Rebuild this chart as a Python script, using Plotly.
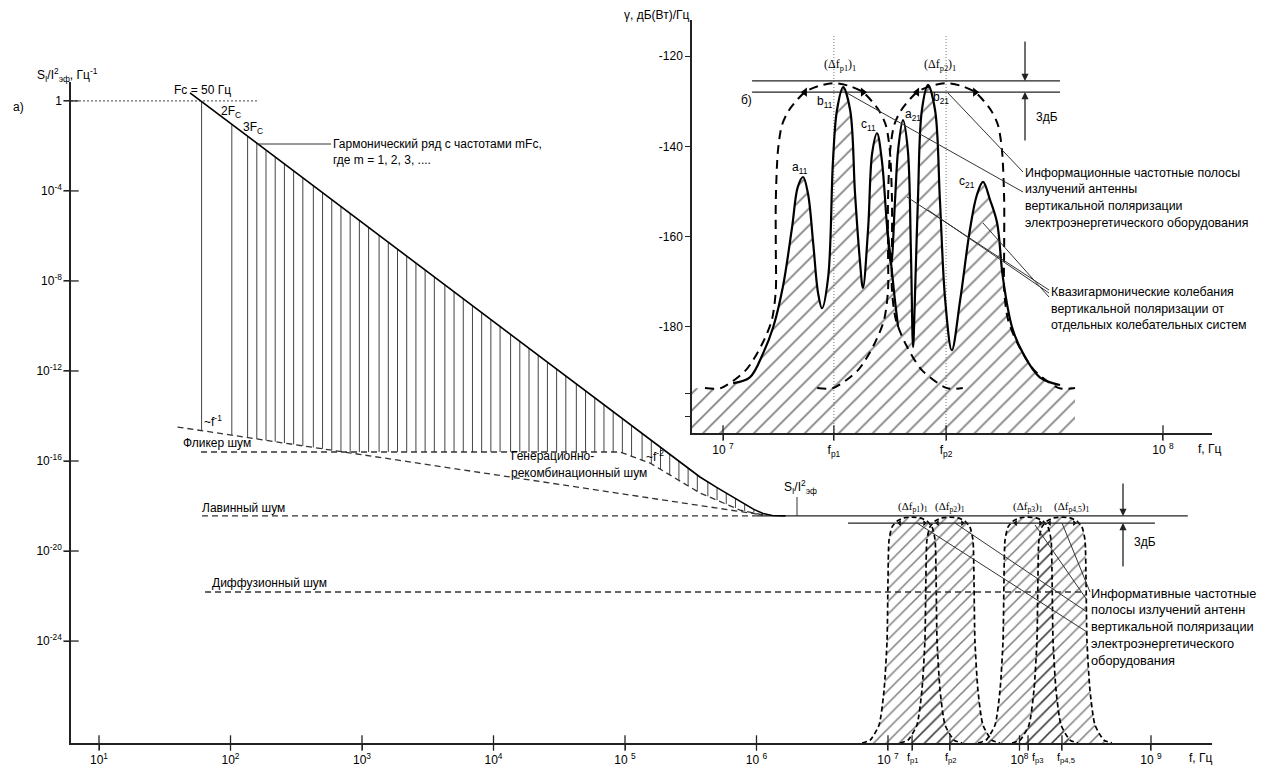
import plotly.graph_objects as go

W, H = 1264, 769
SANS = "Liberation Sans, Arial, sans-serif"
SERIF = "Liberation Serif, Times New Roman, serif"

# ---------------- panel a): relative current-noise spectrum (log10 values) ----------------
envelope_lf = [1.692, 5.570, 5.700, 5.800, 5.900, 5.980, 6.050, 6.120, 6.220]
envelope_ls = [0.356, -16.71, -17.18, -17.53, -17.89, -18.15, -18.33, -18.42, -18.44]

harmonic_lf = [1.78, 2.01, 2.13, 2.20, 2.27, 2.34, 2.41, 2.48, 2.55, 2.63, 2.70, 2.77,
               2.84, 2.91, 2.98, 3.05, 3.13, 3.20, 3.27, 3.34, 3.41, 3.48, 3.55, 3.63,
               3.70, 3.77, 3.84, 3.91, 3.98, 4.05, 4.13, 4.20, 4.27, 4.34, 4.41, 4.48,
               4.55, 4.63, 4.70, 4.77, 4.84, 4.91, 4.98, 5.05, 5.13, 5.20, 5.27, 5.34,
               5.41, 5.48, 5.55, 5.63, 5.70, 5.77, 5.84, 5.91, 5.98]
harmonic_top = [-0.03, -1.04, -1.57, -1.88, -2.19, -2.50, -2.80, -3.11, -3.42, -3.77, -4.08, -4.39,
                -4.70, -5.00, -5.31, -5.62, -5.97, -6.28, -6.59, -6.90, -7.20, -7.51, -7.82, -8.17,
                -8.48, -8.79, -9.10, -9.40, -9.71, -10.02, -10.37, -10.68, -10.99, -11.30, -11.60, -11.91,
                -12.22, -12.57, -12.88, -13.19, -13.50, -13.81, -14.11, -14.42, -14.77, -15.08, -15.39, -15.70,
                -16.01, -16.31, -16.62, -16.93, -17.18, -17.42, -17.67, -17.92, -18.15]
harmonic_floor = [-14.65, -14.85, -14.96, -15.02, -15.08, -15.14, -15.20, -15.26, -15.33, -15.40, -15.46, -15.52,
                  -15.58, -15.60, -15.60, -15.60, -15.60, -15.60, -15.60, -15.60, -15.60, -15.60, -15.60, -15.60,
                  -15.60, -15.60, -15.60, -15.60, -15.60, -15.60, -15.60, -15.60, -15.60, -15.60, -15.60, -15.60,
                  -15.60, -15.60, -15.60, -15.60, -15.60, -15.60, -15.64, -15.79, -15.96, -16.13, -16.37, -16.62,
                  -16.86, -17.11, -17.35, -17.57, -17.74, -17.92, -18.09, -18.22, -18.31]

flicker_lf = [1.597, 6.05]
flicker_ls = [-14.49, -18.40]
gr_lf = [1.776, 4.962, 5.19, 5.57, 5.875, 6.08]
gr_ls = [-15.60, -15.60, -16.09, -17.42, -18.18, -18.44]
avalanche_lf = [1.783, 6.00]
avalanche_ls = -18.44
upper_band_lf = [6.00, 9.28]
lower_band_lf = [6.696, 9.03]
lower_band_ls = -18.76
diffusion_lf = [1.806, 8.483]
diffusion_ls = -21.82
unity_lf = [0.787, 2.209]

band_centers_lf = [7.183, 7.471, 8.065, 8.323]
band_labels = ["f<sub>p1</sub>", "f<sub>p2</sub>", "f<sub>p3</sub>", "f<sub>p4,5</sub>"]
band_dlf = [0, 0.061, 0.114, 0.152, 0.175, 0.183, 0.190, 0.213, 0.251, 0.319, 0.380]
band_ls = [-18.49, -18.53, -18.67, -18.93, -19.51, -21.29, -23.96, -26.18, -27.73, -28.40, -28.53]

main_x_exp = [1, 2, 3, 4, 5, 6, 7, 8, 9]
main_x_text = ["10<sup>1</sup>", "10<sup>2</sup>", "10<sup>3</sup>", "10<sup>4</sup>", "10 <sup>5</sup>",
               "10 <sup>6</sup>", "10 <sup>7</sup>", "10<sup>8</sup>", "10 <sup>9</sup>"]
main_y_exp = [0, -4, -8, -12, -16, -20, -24]
main_y_text = ["1", "10<sup>-4</sup>", "10<sup>-8</sup>", "10<sup>-12</sup>", "10<sup>-16</sup>",
               "10<sup>-20</sup>", "10<sup>-24</sup>"]

# ---------------- panel б): emission spectrum, dB(W)/Hz ----------------
inset_lf = [7.023, 7.061, 7.091, 7.114, 7.136, 7.157, 7.170, 7.182, 7.193, 7.205,
            7.216, 7.225, 7.239, 7.250, 7.259, 7.273, 7.289, 7.300, 7.311, 7.318,
            7.330, 7.339, 7.350, 7.361, 7.373, 7.382, 7.391, 7.398, 7.409, 7.420,
            7.427, 7.432, 7.436, 7.443, 7.452, 7.466, 7.482, 7.493, 7.505, 7.520,
            7.539, 7.561, 7.577, 7.591, 7.607, 7.623, 7.636, 7.657, 7.682, 7.720, 7.766]
inset_db = [-192.5, -191.2, -185.9, -180.1, -171.2, -157.9, -149.0, -146.8, -150.4, -161.5,
            -172.5, -175.9, -169.0, -143.1, -132.0, -126.9, -132.0, -150.4, -165.2, -171.4,
            -157.9, -141.5, -137.1, -143.1, -157.9, -166.0, -151.9, -140.8, -134.2, -140.8,
            -163.0, -184.5, -174.1, -151.9, -132.0, -126.4, -132.0, -151.9, -174.1, -185.2,
            -174.1, -158.6, -150.8, -147.9, -151.9, -157.0, -169.0, -180.1, -185.9, -191.2, -192.9]
c11_tail_lf = [7.373, 7.382, 7.390, 7.398]
c11_tail_db = [-157.9, -166.0, -173.5, -180.1]
inset_floor_db = -193.6
inset_hatch_lf = [6.9295, 7.000, 7.790, 7.800]

inset_centers_lf = [7.252, 7.507]
inset_bell_dlf = [0, 0.034, 0.066, 0.102, 0.118, 0.127, 0.132, 0.132, 0.132, 0.141, 0.164, 0.200, 0.257, 0.293]
inset_bell_db = [-126.0, -126.6, -128.0, -132.0, -135.3, -140.8, -151.9, -163.0, -171.9, -178.5,
                 -184.0, -189.6, -193.6, -193.6]
inset_3db_lf = [7.066, 7.766]
inset_3db_levels = [-125.5, -128.0]

inset_x_lf = [7.0, 7.252, 7.507, 8.0]
inset_x_text = ["10 <sup>7</sup>", "f<sub>p1</sub>", "f<sub>p2</sub>", "10 <sup>8</sup>"]
inset_y_vals = [-120, -140, -160, -180, -194.7, -200]
inset_y_text = ["-120", "-140", "-160", "-180", "", ""]

MAIN_X = [0.787, 9.464]
MAIN_Y = [-28.53, 0.84]
INS_X = [6.9295, 8.1114]
INS_Y = [-203.55, -112.0]


def p10(vals):
    return [10 ** v for v in vals]


fig = go.Figure()


def add_line(x, y, axes=("x", "y"), color="black", width=1.2, dash=None, shape="linear", **kw):
    fig.add_trace(go.Scatter(x=x, y=y, mode="lines", xaxis=axes[0], yaxis=axes[1],
                             line=dict(color=color, width=width, dash=dash, shape=shape, **kw),
                             hoverinfo="skip", showlegend=False))


def cross_ticks(x, y, axes, symbol):
    # short tick strokes centred on the axis line, so they cross it
    fig.add_trace(go.Scatter(x=x, y=y, mode="markers", xaxis=axes[0], yaxis=axes[1], cliponaxis=False,
                             marker=dict(symbol=symbol, size=11, color="#222",
                                         line=dict(color="#222", width=1.3)),
                             hoverinfo="skip", showlegend=False))


# ---- panel a ----
# hatched emission bands near the noise floor
for c in band_centers_lf:
    bx = [c - d for d in reversed(band_dlf)] + [c + d for d in band_dlf[1:]]
    by = list(reversed(band_ls)) + band_ls[1:]
    fig.add_trace(go.Scatter(x=p10(bx), y=p10(by), mode="lines", fill="toself",
                             fillpattern=dict(shape="/", size=9, solidity=0.17, fgcolor="black",
                                              bgcolor="rgba(0,0,0,0)"),
                             fillcolor="rgba(0,0,0,0)",
                             line=dict(color="black", width=1.7, dash="5px,3px", shape="spline", smoothing=0.6),
                             hoverinfo="skip", showlegend=False))
    fig.add_trace(go.Scatter(x=p10([c - 0.095, c + 0.095]), y=p10([lower_band_ls, lower_band_ls]),
                             mode="markers", marker=dict(symbol=["triangle-left", "triangle-right"],
                                                         size=5, color="black"),
                             hoverinfo="skip", showlegend=False))

# harmonic series lines
hx, hy = [], []
for f, lo, hi in zip(harmonic_lf, harmonic_floor, harmonic_top):
    hx += [10 ** f, 10 ** f, None]
    hy += [10 ** lo, 10 ** hi, None]
fig.add_trace(go.Scatter(x=hx, y=hy, mode="lines", line=dict(color="#444", width=1),
                         hoverinfo="skip", showlegend=False))

add_line(p10(unity_lf), p10([0, 0]), color="#444", width=1, dash="2px,2px")
add_line(p10(flicker_lf), p10(flicker_ls), color="#333", width=1.3, dash="6px,4px")
add_line(p10(gr_lf), p10(gr_ls), color="#333", width=1.3, dash="6px,4px")
add_line(p10(avalanche_lf), p10([avalanche_ls] * 2), color="#333", width=1.3, dash="6px,4px")
add_line(p10(diffusion_lf), p10([diffusion_ls] * 2), color="#333", width=1.3, dash="6px,4px")
add_line(p10(upper_band_lf), p10([avalanche_ls] * 2), color="#222", width=1.3)
add_line(p10(lower_band_lf), p10([lower_band_ls] * 2), color="#222", width=1.3)
add_line(p10(envelope_lf), p10(envelope_ls), color="black", width=1.6)

cross_ticks(p10(main_x_exp + band_centers_lf), [10 ** MAIN_Y[0]] * 13, ("x", "y"), "line-ns-open")
cross_ticks([10 ** MAIN_X[0]] * 7, p10(main_y_exp), ("x", "y"), "line-ew-open")

# ---- panel б ----
AX2 = ("x2", "y2")
fig.add_trace(go.Scatter(x=p10([INS_X[0], inset_hatch_lf[-1]]), y=[INS_Y[0], INS_Y[0]], mode="lines",
                         xaxis="x2", yaxis="y2", line=dict(width=0), hoverinfo="skip", showlegend=False))
fx = inset_hatch_lf[:2] + inset_lf + inset_hatch_lf[2:]
fy = [inset_floor_db, inset_floor_db] + inset_db + [-193.3, inset_floor_db]
fig.add_trace(go.Scatter(x=p10(fx), y=fy, mode="lines", xaxis="x2", yaxis="y2", fill="tonexty",
                         fillpattern=dict(shape="/", size=12, solidity=0.14, fgcolor="black",
                                          bgcolor="rgba(0,0,0,0)"),
                         fillcolor="rgba(0,0,0,0)",
                         line=dict(width=0, shape="spline", smoothing=1.0),
                         hoverinfo="skip", showlegend=False))

for c in inset_centers_lf:
    add_line(p10([c, c]), [INS_Y[0], -115.3], AX2, color="#777", width=1, dash="1px,2px")

for lvl in inset_3db_levels:
    add_line(p10(inset_3db_lf), [lvl, lvl], AX2, color="#222", width=1.3)

for c in inset_centers_lf:
    bx = [c - d for d in reversed(inset_bell_dlf)] + [c + d for d in inset_bell_dlf[1:]]
    by = list(reversed(inset_bell_db)) + inset_bell_db[1:]
    add_line(p10(bx), by, AX2, color="black", width=2, dash="9px,6px", shape="spline", smoothing=0.8)
    fig.add_trace(go.Scatter(x=p10([c - 0.066, c + 0.066]), y=[-128.0, -128.0], mode="markers",
                             xaxis="x2", yaxis="y2",
                             marker=dict(symbol=["triangle-left", "triangle-right"], size=8, color="black"),
                             hoverinfo="skip", showlegend=False))

add_line(p10(inset_lf), inset_db, AX2, color="black", width=2.2, shape="spline", smoothing=1.0)
add_line(p10(c11_tail_lf), c11_tail_db, AX2, color="black", width=2.2, shape="spline", smoothing=1.0)

cross_ticks(p10(inset_x_lf), [INS_Y[0]] * 4, AX2, "line-ns-open")
cross_ticks([10 ** INS_X[0]] * 6, inset_y_vals, AX2, "line-ew-open")


# ---------------- text, leaders, arrows ----------------
def px(x, y):
    return x / W, 1 - y / H


def txt(x, y, s, size=12, anchor="left", family=SANS, yanchor="middle"):
    xx, yy = px(x, y)
    fig.add_annotation(x=xx, y=yy, xref="paper", yref="paper", text=s, showarrow=False,
                       xanchor=anchor, yanchor=yanchor, borderpad=0,
                       font=dict(size=size, family=family, color="black"))


def seg(x0, y0, x1, y1, width=1, color="#333"):
    a, b = px(x0, y0)
    c, d = px(x1, y1)
    fig.add_shape(type="line", xref="paper", yref="paper", x0=a, y0=b, x1=c, y1=d,
                  line=dict(color=color, width=width))


def arrow(x, y, dy):
    xx, yy = px(x, y)
    fig.add_annotation(x=xx, y=yy, xref="paper", yref="paper", ax=0, ay=dy, text="",
                       showarrow=True, arrowhead=2, arrowsize=1.1, arrowwidth=1.3, arrowcolor="#222")


# panel a labels
txt(36, 75, "S<sub>I</sub>/I<sup>2</sup><sub>эф</sub>, Гц<sup>-1</sup>", 12)
txt(12, 107, "а)", 12)
txt(173, 90, "Fc = 50 Гц", 12)
txt(220, 112, "2F<sub>C</sub>", 12)
txt(242, 128, "3F<sub>C</sub>", 12)
seg(258, 144, 331, 144)
txt(332, 144, "Гармонический ряд с частотами mFc,", 12)
txt(332, 160, "где m = 1, 2, 3, ....", 12)
txt(203, 421, "~f<sup>-1</sup>", 12)
txt(182, 443, "Фликер шум", 12)
txt(510, 456, "Генерационно-", 12)
txt(510, 473, "рекомбинационный шум", 12)
txt(645, 456, "~f<sup>-2</sup>", 12)
txt(201, 508, "Лавинный шум", 12)
txt(211, 583, "Диффузионный шум", 12)
txt(783, 487, "S<sub>I</sub>/I<sup>2</sup><sub>эф</sub>", 12)
seg(797, 497, 797, 516)
for cx, lab in zip([913, 950, 1028, 1072], ["p1", "p2", "p3", "p4,5"]):
    txt(cx, 507, "(Δf<sub>%s</sub>)<sub>1</sub>" % lab, 11, anchor="center", family=SERIF)
for lx, lab in zip([906, 944, 1031, 1056], band_labels):
    txt(lx, 758, lab, 11)
arrow(1123, 516, -34)
arrow(1123, 523, 45)
txt(1133, 542, "3дБ", 12)
for x0, y0, x1, y1 in [(917, 523, 1087, 632), (955, 523, 1087, 612), (1035, 525, 1087, 600), (1062, 523, 1090, 592)]:
    seg(x0, y0, x1, y1)
for i, s in enumerate(["Информативные частотные", "полосы излучений антенн", "вертикальной поляризации",
                       "электроэнергетического", "оборудования"]):
    txt(1090, 593 + i * 16.8, s, 12.8)
txt(1188, 758, "f, Гц", 12)

# panel б labels
txt(690, 15, "γ, дБ(Вт)/Гц", 12, anchor="right")
txt(740, 100, "б)", 12)
txt(840, 65, "(Δf<sub>p1</sub>)<sub>1</sub>", 12, anchor="center", family=SERIF)
txt(940, 65, "(Δf<sub>p2</sub>)<sub>1</sub>", 12, anchor="center", family=SERIF)
txt(800, 168, "a<sub>11</sub>", 12, anchor="center")
txt(825, 102, "b<sub>11</sub>", 12, anchor="center")
txt(868, 125, "c<sub>11</sub>", 12, anchor="center")
txt(913, 115, "a<sub>21</sub>", 12, anchor="center")
txt(941, 98, "b<sub>21</sub>", 12, anchor="center")
txt(967, 182, "c<sub>21</sub>", 12, anchor="center")
arrow(1025, 81, -41)
arrow(1025, 92, 50)
txt(1035, 117, "3дБ", 12)
seg(847, 93, 1023, 192)
seg(948, 93, 1023, 172)
for x0, y0, y1 in [(907, 197, 290), (928, 210, 293), (983, 223, 297)]:
    seg(x0, y0, 1049, y1)
for i, s in enumerate(["Информационные частотные полосы", "излучений антенны", "вертикальной поляризации",
                       "электроэнергетического оборудования"]):
    txt(1024, 173 + i * 16.5, s, 12.4)
for i, s in enumerate(["Квазигармонические колебания", "вертикальной поляризации от",
                       "отдельных колебательных систем"]):
    txt(1050, 292 + i * 16.5, s, 12.4)
txt(1197, 449, "f, Гц", 12)

axis_common = dict(showgrid=False, zeroline=False, showline=True, linecolor="#222", linewidth=1.5,
                   ticks="outside", ticklen=5, tickwidth=1.2, tickcolor="#222", tickmode="array",
                   tickfont=dict(size=12, family=SANS, color="black"), automargin=False)

fig.update_layout(
    width=W, height=H, margin=dict(l=0, r=0, t=0, b=0, autoexpand=False),
    paper_bgcolor="white", plot_bgcolor="white", showlegend=False,
    xaxis=dict(axis_common, type="log", domain=[71 / W, 1212 / W], range=MAIN_X, anchor="y",
               tickvals=p10(main_x_exp + band_centers_lf), ticktext=main_x_text + [""] * 4),
    yaxis=dict(axis_common, type="log", domain=[26 / H, 687 / H], range=MAIN_Y, anchor="x",
               tickvals=p10(main_y_exp), ticktext=main_y_text),
    xaxis2=dict(axis_common, type="log", domain=[692 / W, 1212 / W], range=INS_X, anchor="y2",
                tickvals=p10(inset_x_lf), ticktext=inset_x_text),
    yaxis2=dict(axis_common, type="linear", domain=[336 / H, 749 / H], range=INS_Y, anchor="x2",
                tickvals=inset_y_vals, ticktext=inset_y_text),
)

fig.write_html("out.html")
